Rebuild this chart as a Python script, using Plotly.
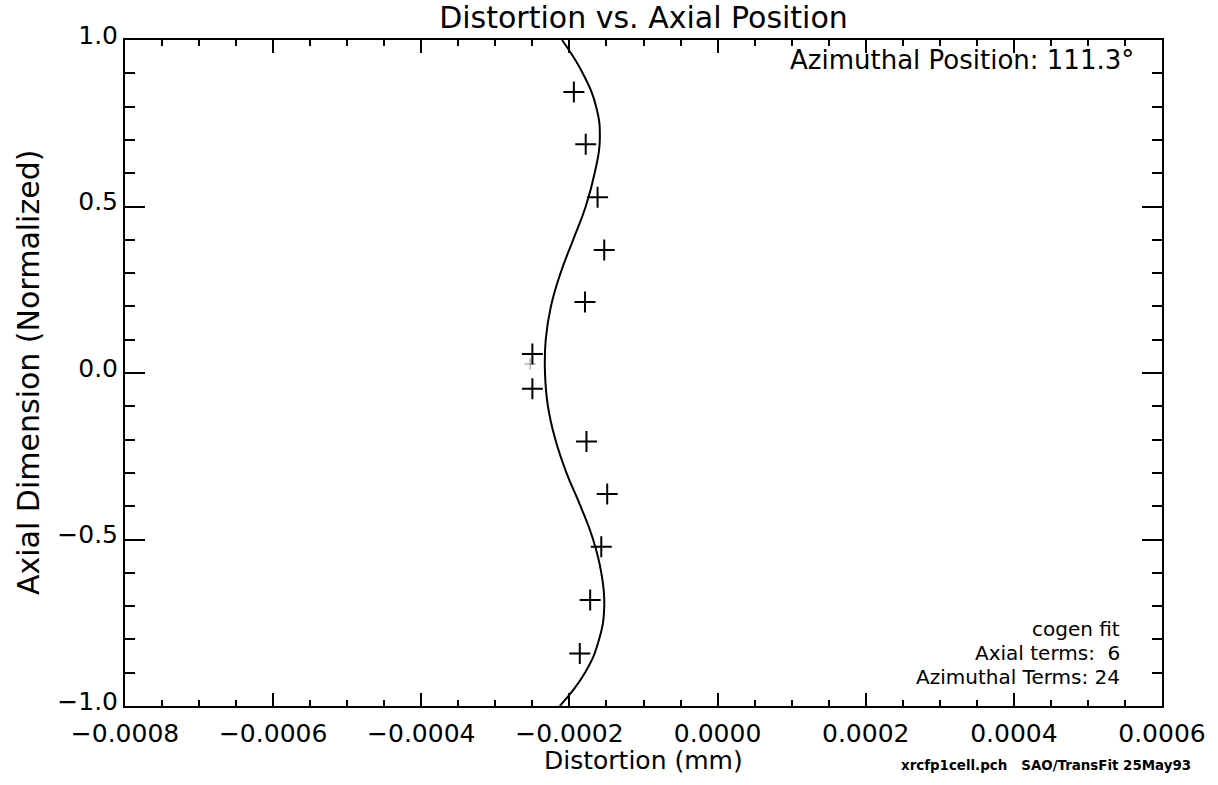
import plotly.graph_objects as go

# ---- data ----
point_x = [-0.000194, -0.000178, -0.000162, -0.000153, -0.000179, -0.000250,
           -0.000250, -0.000177, -0.000149, -0.000157, -0.000172, -0.000186]
point_y = [0.844, 0.687, 0.528, 0.369, 0.213, 0.057,
           -0.047, -0.206, -0.363, -0.522, -0.682, -0.842]

faint_x = [-0.000253]
faint_y = [0.027]

fit_y = [1.0, 0.9, 0.8, 0.7, 0.6, 0.5, 0.4, 0.3, 0.2, 0.1, 0.0,
         -0.1, -0.2, -0.3, -0.4, -0.5, -0.6, -0.7, -0.8, -0.9, -1.0]
fit_x = [-0.000210, -0.000182, -0.000164, -0.000159, -0.000166, -0.000178,
         -0.000195, -0.000212, -0.000225, -0.000232, -0.000233, -0.000229,
         -0.000219, -0.000204, -0.000185, -0.000168, -0.000157, -0.000153,
         -0.000160, -0.000179, -0.000213]

x_range = [-0.0008, 0.0006]
y_range = [-1.0, 1.0]

title_text = "Distortion vs. Axial Position"
x_title = "Distortion (mm)"
y_title = "Axial Dimension (Normalized)"
azimuth_text = "Azimuthal Position: 111.3°"
fit_lines = ["cogen fit", "Axial terms:  6", "Azimuthal Terms: 24"]
footer_text = "xrcfp1cell.pch   SAO/TransFit 25May93"

FONT = "DejaVu Sans"
W, H = 1218, 785
L, R, T, B = 125, 56, 40, 79

fig = go.Figure()
fig.add_trace(go.Scatter(x=fit_x, y=fit_y, mode="lines",
                         line=dict(color="black", width=2, shape="spline", smoothing=1.3),
                         hoverinfo="skip", showlegend=False))
fig.add_trace(go.Scatter(x=faint_x, y=faint_y, mode="markers",
                         marker=dict(symbol="cross-thin", size=8,
                                     line=dict(color="#888888", width=1)),
                         hoverinfo="skip", showlegend=False))
fig.add_trace(go.Scatter(x=point_x, y=point_y, mode="markers",
                         marker=dict(symbol="cross-thin", size=15,
                                     line=dict(color="black", width=2)),
                         showlegend=False))

fig.update_layout(
    width=W, height=H, autosize=False,
    margin=dict(l=L, r=R, t=T, b=B, pad=0),
    paper_bgcolor="white", plot_bgcolor="white",
    font=dict(family=FONT, color="black", size=25),
    title=dict(text=title_text, x=0.5, xref="paper", y=1 - 17 / H,
               yref="container", xanchor="center", yanchor="middle",
               font=dict(family=FONT, size=30, color="black")),
    xaxis=dict(range=x_range, showgrid=False, zeroline=False,
               showline=True, linecolor="black", linewidth=2, mirror="allticks",
               ticks="inside", ticklen=13, tickwidth=1.5, tickcolor="black",
               dtick=0.0002, tick0=-0.0008, tickformat=".4f", ticklabelstandoff=4,
               tickfont=dict(family=FONT, size=25),
               minor=dict(ticks="inside", ticklen=6, tickwidth=1.5, dtick=0.00005,
                          tickcolor="black", showgrid=False)),
    yaxis=dict(range=y_range, showgrid=False, zeroline=False,
               showline=True, linecolor="black", linewidth=2, mirror="allticks",
               ticks="inside", ticklen=20, tickwidth=1.5, tickcolor="black",
               dtick=0.5, tick0=-1.0, tickformat=".1f", ticklabelshift=-5,
               tickfont=dict(family=FONT, size=25),
               minor=dict(ticks="inside", ticklen=10, tickwidth=1.5, dtick=0.1,
                          tickcolor="black", showgrid=False)),
)

annotations = [
    dict(text=x_title, xref="paper", yref="paper", x=0.5, y=0, yshift=-54,
         xanchor="center", yanchor="middle", showarrow=False,
         font=dict(family=FONT, size=25)),
    dict(text=y_title, xref="paper", yref="paper", x=0, y=0.5, xshift=-97,
         xanchor="center", yanchor="middle", textangle=-90, showarrow=False,
         font=dict(family=FONT, size=30)),
    dict(text=azimuth_text, xref="paper", yref="paper", x=1, y=1,
         xshift=1136 - (W - R), yshift=-20, xanchor="right", yanchor="middle",
         showarrow=False, font=dict(family=FONT, size=26)),
    dict(text=footer_text, xref="paper", yref="paper", x=1, y=0,
         xshift=1193 - (W - R), yshift=-(765 - (H - B)),
         xanchor="right", yanchor="middle", showarrow=False,
         font=dict(family=FONT, size=13.4, weight="bold")),
]
for i, t in enumerate(fit_lines):
    annotations.append(dict(text=t, xref="paper", yref="paper", x=1, y=0,
                            xshift=1122 - (W - R), yshift=(H - B) - (629 + 24 * i),
                            xanchor="right", yanchor="middle", showarrow=False,
                            font=dict(family=FONT, size=20)))
fig.update_layout(annotations=annotations)

fig.write_html(
    "out.html",
    config={"displayModeBar": False},
    post_script="document.body.style.margin='0';document.body.style.overflow='hidden';",
)
